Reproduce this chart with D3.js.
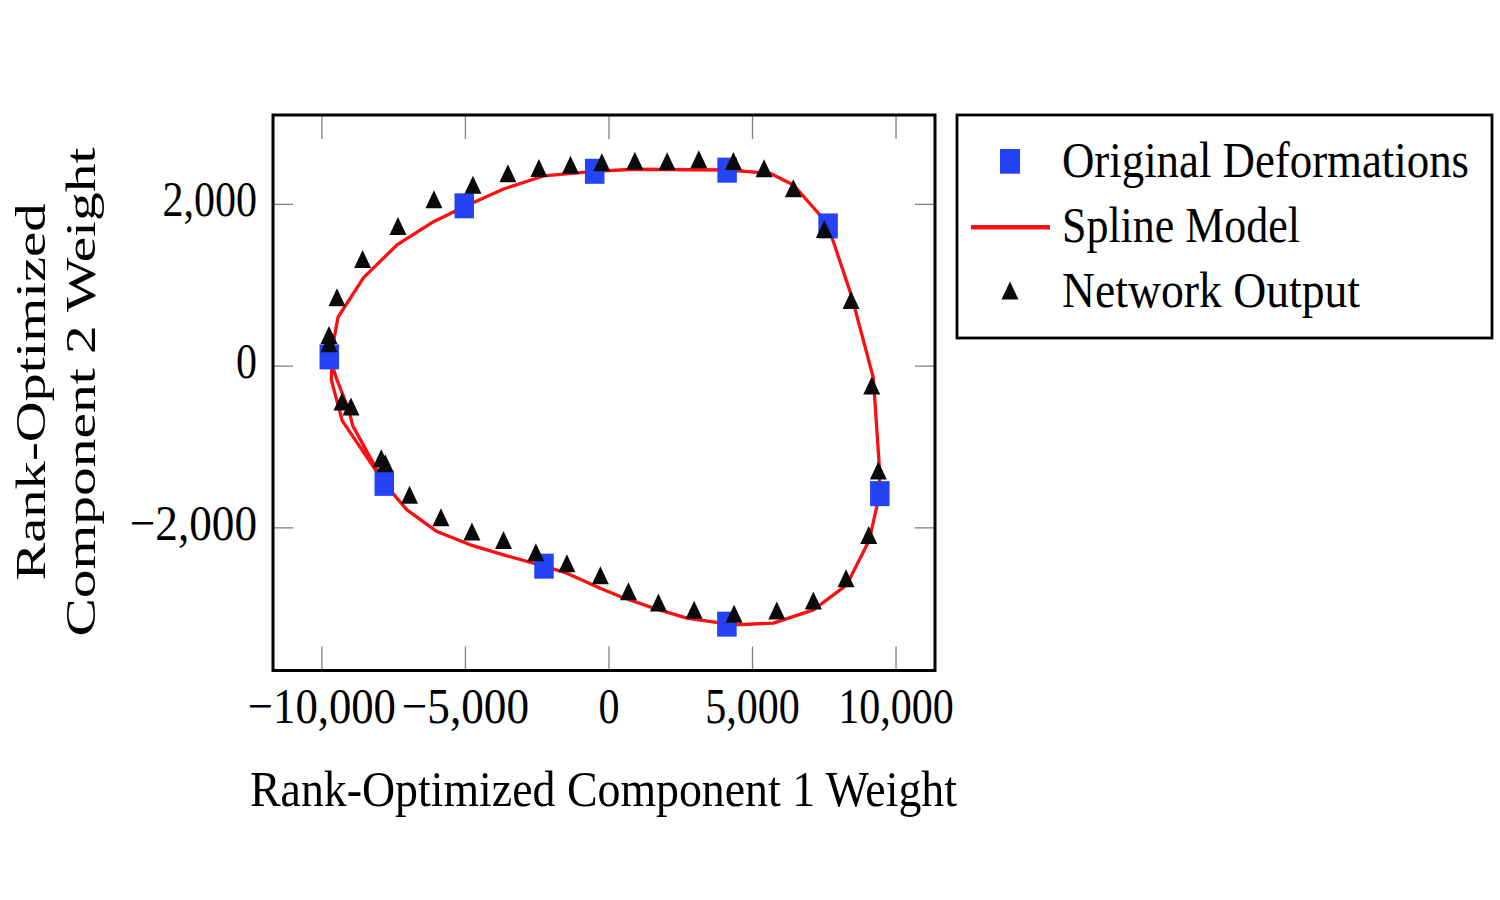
<!DOCTYPE html>
<html>
<head>
<meta charset="utf-8">
<title>Rank-Optimized Component Weights</title>
<style>
body{
    margin:0;
    background:#fff;
}
svg text{
    font-family:"Liberation Serif", "DejaVu Serif", serif;
    fill:#000;
}
.tick line{
    stroke:#808080;
    stroke-width:1.3;
}
</style>
</head>
<body>
<svg id="chart" width="1500" height="900"></svg>
<script src="https://d3js.org/d3.v7.min.js"></script>
<script>
// original deformations (blue squares)
var origX = [-9725, -5024, -480, 4133, 7650, 9453, 4126, -2246, -7810];
var origY = [108, 1976, 2403, 2417, 1727, -1583, -3197, -2480, -1456];

// spline model, traced as a polyline (it runs the left side twice)
var splineX = [-9621, -9655, -9412, -9272, -8193, -7810, -7020, -5975, -4815, -3656,
               -2246, -1448, -289, 407, 1567, 2730, 4352, 5745, 7138, 8301,
               9088, 9450, 9436, 9227, 8475, 7650, 7312, 6442, 5630, 4133,
               870, -487, -2263, -3656, -5024, -6093, -7368, -8531, -9422, -9586,
               -9568, -9457, -9046, -8907, -8064, -7810];
var splineY = [108, -177, -498, -684, -1248, -1456, -1784, -2052, -2216, -2340,
               -2480, -2566, -2752, -2855, -2999, -3122, -3205, -3184, -3020, -2711,
               -2155, -1582, -1248, -152, 853, 1727, 1884, 2234, 2378, 2419,
               2428, 2403, 2345, 2184, 1965, 1780, 1492, 1088, 598, 281,
               -53, -177, -548, -745, -1289, -1456];

// network output (black triangles)
var netX = [-9735, -9735, -9457, -8565, -7333, -6079, -4721, -3503, -2423, -1323,
            -230, 919, 2044, 3148, 4352, 5421, 6442, 7521, 8451, 9171,
            9401, 9067, 8276, 7138, 5864, 4377, 2984, 1741, 696, -282,
            -1448, -2528, -3656, -4756, -5836, -6929, -7914, -7775, -9283, -8969];
var netY = [379, 277, 845, 1319, 1727, 2057, 2237, 2378, 2444, 2485,
            2514, 2534, 2527, 2551, 2530, 2440, 2193, 1690, 812, -245,
            -1298, -2096, -2628, -2905, -3028, -3069, -3020, -2930, -2789, -2591,
            -2443, -2307, -2155, -2052, -1874, -1598, -1145, -1206, -443, -507];

var xTicks = [-10000, -5000, 0, 5000, 10000];
var yTicks = [-2000, 0, 2000];
var xDomain = [-11686, 11375];
var yDomain = [-3770, 3099];

var legendLabels = ["Original Deformations", "Spline Model", "Network Output"];
var xLabel = "Rank-Optimized Component 1 Weight";
var yLabel = ["Rank-Optimized", "Component 2 Weight"];

// the figure is stretched vertically
var K = 1.2;
var blue = "#2343f4", red = "#fa1010", black = "#0a0a0a";

var svg = d3.select("#chart");
var L = 273, R = 935, T = 115, B = 670.5;

var x = d3.scaleLinear().domain(xDomain).range([L, R]);
var y = d3.scaleLinear().domain(yDomain).range([B, T]);
var fmt = d3.format(",");

function addText(parent, px, py, str, size, anchor, len, rot){
    var t = parent.append("text")
        .attr("transform", "translate(" + px + "," + py + ") scale(1," + K + ")" + (rot ? " rotate(-90)" : ""))
        .attr("font-size", size)
        .attr("text-anchor", anchor)
        .text(str);
    if (len) t.attr("textLength", len).attr("lengthAdjust", "spacingAndGlyphs");
    return t;
}

// widen the minus sign a little, like the TeX one
function widenMinus(sel){
    sel.each(function(d){
        if (d < 0) {
            var w = this.getComputedTextLength();
            d3.select(this).attr("textLength", w + 9).attr("lengthAdjust", "spacingAndGlyphs");
        }
    });
}

// axes, ticks pointing inward on all four sides
var gb = svg.append("g").attr("transform", "translate(0," + B + ")")
    .call(d3.axisBottom(x).tickValues(xTicks).tickSizeInner(-24).tickSizeOuter(0).tickFormat(fmt));
var gt = svg.append("g").attr("transform", "translate(0," + T + ")")
    .call(d3.axisTop(x).tickValues(xTicks).tickSizeInner(-24).tickSizeOuter(0).tickFormat(""));
var gl = svg.append("g").attr("transform", "translate(" + L + ",0)")
    .call(d3.axisLeft(y).tickValues(yTicks).tickSizeInner(-20).tickSizeOuter(0).tickFormat(fmt));
var gr = svg.append("g").attr("transform", "translate(" + R + ",0)")
    .call(d3.axisRight(y).tickValues(yTicks).tickSizeInner(-20).tickSizeOuter(0).tickFormat(""));

[gb, gt, gl, gr].forEach(function(g){ g.select(".domain").remove(); });

gb.selectAll(".tick text")
    .attr("y", null).attr("dy", null)
    .attr("font-family", null)
    .attr("font-size", 42)
    .attr("fill", "#000")
    .attr("transform", "translate(0," + (723 - B) + ") scale(1," + K + ")")
    .call(widenMinus);
gl.selectAll(".tick text")
    .attr("x", null).attr("dy", null)
    .attr("font-family", null)
    .attr("font-size", 42)
    .attr("fill", "#000")
    .attr("text-anchor", "end")
    .attr("transform", "translate(" + (257 - L) + ",12) scale(1," + K + ")")
    .call(widenMinus);

// spline model
var line = d3.line()
    .x(function(d, i){ return x(splineX[i]); })
    .y(function(d, i){ return y(splineY[i]); });
svg.append("path")
    .attr("d", line(splineX))
    .attr("fill", "none")
    .attr("stroke", red)
    .attr("stroke-width", 3.3)
    .attr("stroke-linejoin", "round");

// original deformations
var sqW = 19.5, sqH = 25;
svg.append("g").selectAll("rect").data(origX).enter().append("rect")
    .attr("x", function(d){ return x(d) - sqW / 2; })
    .attr("y", function(d, i){ return y(origY[i]) - sqH / 2; })
    .attr("width", sqW).attr("height", sqH)
    .attr("fill", blue);

// network output
var tri = "M0,-9L8.5,9L-8.5,9Z";
svg.append("g").selectAll("path").data(netX).enter().append("path")
    .attr("d", tri)
    .attr("transform", function(d, i){ return "translate(" + x(d) + "," + y(netY[i]) + ")"; })
    .attr("fill", black);

// plot frame
svg.append("rect")
    .attr("x", L).attr("y", T).attr("width", R - L).attr("height", B - T)
    .attr("fill", "none").attr("stroke", "#000").attr("stroke-width", 3);

// axis labels
addText(svg, 603.5, 806, xLabel, 42, "middle", 707);
addText(svg, 45, 392, yLabel[0], 42, "middle", 377 / K, true);
addText(svg, 95, 392, yLabel[1], 42, "middle", 489 / K, true);

// legend
var leg = svg.append("g");
leg.append("rect")
    .attr("x", 957).attr("y", 115).attr("width", 535).attr("height", 223)
    .attr("fill", "#fff").attr("stroke", "#000").attr("stroke-width", 2.8);
leg.append("rect")
    .attr("x", 1010 - 10).attr("y", 161.3 - 12.3).attr("width", 20).attr("height", 24.7)
    .attr("fill", blue);
leg.append("line")
    .attr("x1", 971).attr("x2", 1050).attr("y1", 227.3).attr("y2", 227.3)
    .attr("stroke", red).attr("stroke-width", 4.5);
leg.append("path")
    .attr("d", tri)
    .attr("transform", "translate(1010,290.5)")
    .attr("fill", black);
var legLen = [407, 238, 298], legBase = [177, 242, 307];
legendLabels.forEach(function(s, i){
    addText(leg, 1062, legBase[i], s, 42, "start", legLen[i]);
});
</script>
</body>
</html>
